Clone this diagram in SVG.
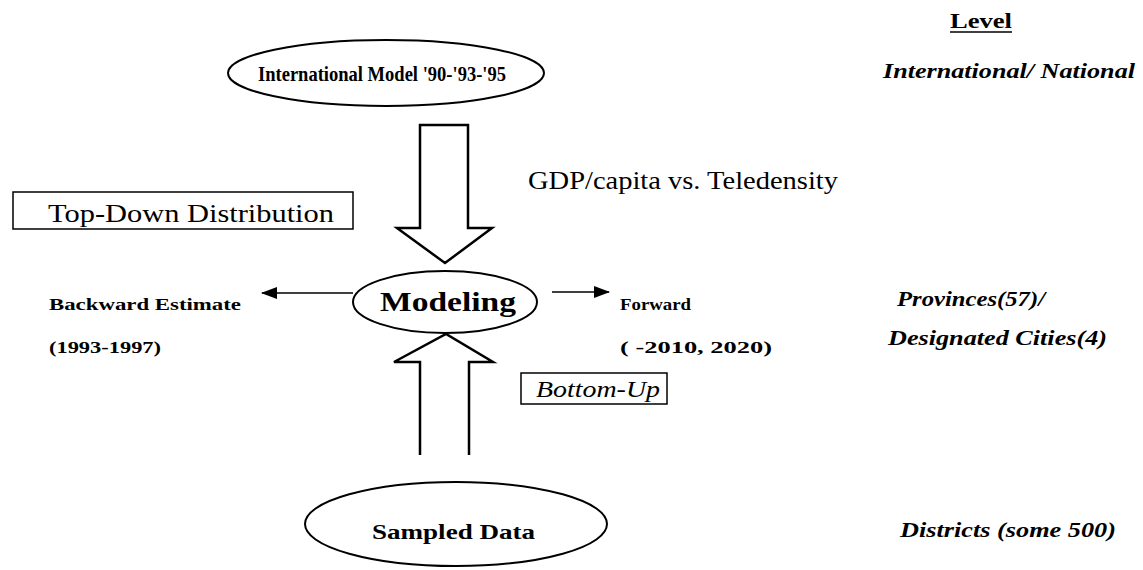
<svg xmlns="http://www.w3.org/2000/svg" width="1143" height="570" viewBox="0 0 1143 570">
<style>
.ell{fill:none;stroke:#000;stroke-width:2}
.box{fill:none;stroke:#000;stroke-width:1.5}
.bigarrow{fill:#fff;stroke:#000;stroke-width:2.5;stroke-linejoin:miter}
.thin{fill:none;stroke:#000;stroke-width:1.5}
.b{font-family:"Liberation Serif",serif;font-weight:bold;fill:#000}
.r{font-family:"Liberation Serif",serif;fill:#000}
.bi{font-family:"Liberation Serif",serif;font-weight:bold;font-style:italic;fill:#000}
.i{font-family:"Liberation Serif",serif;font-style:italic;fill:#000}
</style>
<defs>
<marker id="ah2" markerWidth="16" markerHeight="12" refX="15" refY="6" orient="auto" markerUnits="userSpaceOnUse">
<path d="M0,0 L16,6 L0,12 Z" fill="#000"/>
</marker>
</defs>
<rect width="1143" height="570" fill="#fff"/>

<g id="connectors">
<path class="bigarrow" d="M420,125 L468,125 L468,228 L492,228 L445,263 L397,228 L420,228 Z"/>
<path class="bigarrow" d="M420,455 L420,362 L394,362 L446,334 L493,362 L469,362 L469,455"/>
<line class="thin" x1="353" y1="293" x2="262" y2="293" marker-end="url(#ah2)"/>
<line class="thin" x1="552" y1="292" x2="609" y2="292" marker-end="url(#ah2)"/>
</g>

<g id="node-international">
<ellipse class="ell" cx="386" cy="73" rx="158" ry="33"/>
<text class="b" x="258" y="81" font-size="22" textLength="248" lengthAdjust="spacingAndGlyphs">International Model '90-'93-'95</text>
</g>

<g id="node-modeling">
<ellipse class="ell" cx="445" cy="302" rx="92" ry="31"/>
<text class="b" x="380" y="311" font-size="28" textLength="136" lengthAdjust="spacingAndGlyphs">Modeling</text>
</g>

<g id="node-sampled">
<ellipse class="ell" cx="456" cy="524" rx="151" ry="42"/>
<text class="b" x="372" y="539" font-size="22" textLength="163" lengthAdjust="spacingAndGlyphs">Sampled Data</text>
</g>

<g id="label-topdown">
<rect class="box" x="13" y="192" width="340" height="37"/>
<text class="r" x="48" y="222" font-size="26" textLength="286" lengthAdjust="spacingAndGlyphs">Top-Down Distribution</text>
</g>

<g id="label-gdp">
<text class="r" x="528" y="189" font-size="26" textLength="310" lengthAdjust="spacingAndGlyphs">GDP/capita vs. Teledensity</text>
</g>

<g id="label-backward">
<text class="b" x="49" y="310" font-size="17" textLength="192" lengthAdjust="spacingAndGlyphs">Backward Estimate</text>
<text class="b" x="49" y="353" font-size="17" textLength="112" lengthAdjust="spacingAndGlyphs">(1993-1997)</text>
</g>

<g id="label-forward">
<text class="b" x="620" y="310" font-size="17" textLength="71" lengthAdjust="spacingAndGlyphs">Forward</text>
<text class="b" x="620" y="353" font-size="17" textLength="152" lengthAdjust="spacingAndGlyphs">(   -2010, 2020)</text>
</g>

<g id="label-bottomup">
<rect class="box" x="521" y="373" width="146" height="31"/>
<text class="i" x="536" y="397" font-size="23" textLength="124" lengthAdjust="spacingAndGlyphs">Bottom-Up</text>
</g>

<g id="levels">
<text class="b" x="950" y="28" font-size="21" textLength="62" lengthAdjust="spacingAndGlyphs">Level</text>
<line x1="950" y1="32" x2="1012" y2="32" stroke="#000" stroke-width="1.5"/>
<text class="bi" x="883" y="78" font-size="22" textLength="252" lengthAdjust="spacingAndGlyphs">International/ National</text>
<text class="bi" x="897" y="306" font-size="22" textLength="148" lengthAdjust="spacingAndGlyphs">Provinces(57)/</text>
<text class="bi" x="888" y="345" font-size="22" textLength="219" lengthAdjust="spacingAndGlyphs">Designated Cities(4)</text>
<text class="bi" x="900" y="537" font-size="22" textLength="216" lengthAdjust="spacingAndGlyphs">Districts (some 500)</text>
</g>
</svg>
